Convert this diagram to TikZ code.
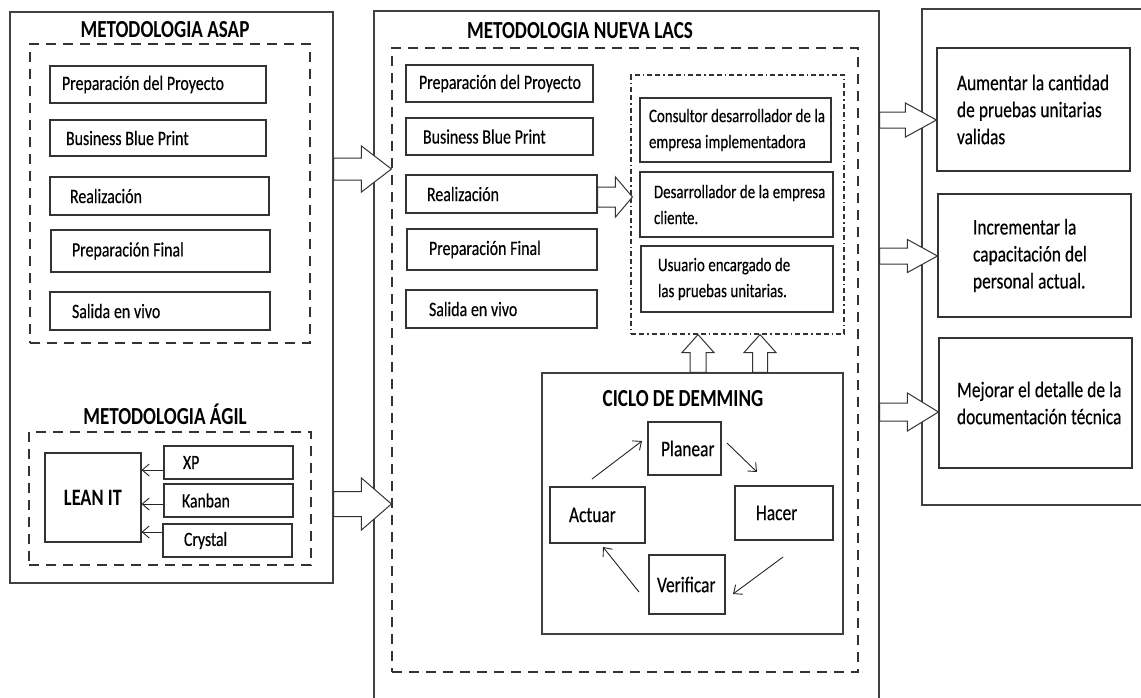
\documentclass[tikz,border=0pt]{standalone}
\usepackage{fontspec}
\setmainfont[FakeStretch=0.78, UprightFeatures={FakeBold=0.35}]{Carlito}
\usetikzlibrary{calc,arrows.meta}
\hfuzz=300pt \hbadness=10000
\newcommand\bx[8][]{%
  \pgfmathsetmacro\bw{#5-#3}\pgfmathsetmacro\bh{#6-#4}%
  \node[box,#1,minimum width=\bw pt,minimum height=\bh pt,text width=\bw pt,
        execute at begin node={\leftskip=#7pt\relax\spaceskip=0.185em plus 0.05em minus 0.02em\relax}] (#2) at ({(#3+#5)/2},{(#4+#6)/2}) {#8};}
\newcommand\rbox[6]{%
  \pgfmathsetmacro\bw{#5-#3}\pgfmathsetmacro\bh{#6-#4}%
  \node[#1,minimum width=\bw pt,minimum height=\bh pt,inner sep=0pt] (#2) at ({(#3+#5)/2},{(#4+#6)/2}) {};}
\newcommand\mline[1]{\mbox{#1}}
\tikzset{
  x=1pt, y=-1pt,
  box/.style={draw=black!80, line width=1.1pt, fill=white, inner xsep=0pt, inner ysep=0pt, align=left, text=black},
  body/.style={font=\fontsize{20.4}{22}\selectfont},
  small/.style={font=\fontsize{19.1}{26}\selectfont},
  big/.style={font=\fontsize{22.3}{27}\selectfont},
  dm/.style={font=\fontsize{22.3}{24}\selectfont},
  lean/.style={font=\bfseries\fontsize{23.5}{25}\selectfont},
  sm2/.style={font=\fontsize{20.2}{22}\selectfont},
  outerbox/.style={draw=black!75, line width=1.1pt},
  dashbox/.style={draw=black!80, line width=1.1pt, dash pattern=on 10pt off 7pt},
  dotbox/.style={draw=black!80, line width=1.1pt, dash pattern=on 5pt off 3pt on 5pt off 3pt on 1.5pt off 3pt},
  title/.style={font=\bfseries\fontsize{24.5}{26}\selectfont, anchor=base, text=black, inner sep=0pt},
  barrow/.style={draw=black!80, line width=1pt, fill=white, line join=miter},
  harrow/.style n args={3}{to path={let \p1=(\tikztostart), \p2=(\tikztotarget) in
     (\x1,\y1+#1pt) -- (\x2-#3pt,\y1+#1pt) -- (\x2-#3pt,\y1+#2pt) -- (\x2,\y1)
     -- (\x2-#3pt,\y1-#2pt) -- (\x2-#3pt,\y1-#1pt) -- (\x1,\y1-#1pt) -- cycle}},
  varrow/.style n args={3}{to path={let \p1=(\tikztostart), \p2=(\tikztotarget) in
     (\x1-#1pt,\y1) -- (\x1-#1pt,\y2-#3pt) -- (\x1-#2pt,\y2-#3pt) -- (\x1,\y2)
     -- (\x1+#2pt,\y2-#3pt) -- (\x1+#1pt,\y2-#3pt) -- (\x1+#1pt,\y1) -- cycle}},
  thinarr/.style={draw=black!85, line width=0.9pt, -{Straight Barb[length=7pt,width=12pt]}},
}
\begin{document}
\begin{tikzpicture}
\useasboundingbox (0,0) rectangle (1141,697);
\clip (0,0) rectangle (1141,697);
\fill[white] (0,0) rectangle (1141,697);

% outer frames
\rbox{outerbox}{leftout}{10}{12}{333}{583}
\rbox{outerbox}{midout}{374}{11}{879}{710}
\rbox{outerbox}{rightout}{922}{9}{1150}{505}

% dashed frames
\rbox{dashbox}{asapd}{30}{44}{310}{343}
\rbox{dashbox}{agild}{29}{432}{311}{565}
\rbox{dashbox}{nueva}{392}{48}{858}{672}
\rbox{dotbox}{roles}{631}{75}{844}{334}

% titles
\node[title] (t1) at (165,37) {METODOLOGIA ASAP};
\node[title] (t2) at (165,424) {METODOLOGIA ÁGIL};
\node[title] (t3) at (580,38) {METODOLOGIA NUEVA LACS};
\node[title] (t4) at (683,406) {CICLO DE DEMMING};

% ASAP column
\bx[body]{a1}{50}{66}{266}{103}{12}{\mline{Preparación del Proyecto}}
\bx[body]{a2}{50}{120}{266}{156}{16}{\mline{Business Blue Print}}
\bx[body]{a3}{50}{177}{269}{215}{20}{Realización}
\bx[body]{a4}{51}{230}{270}{272}{21}{\mline{Preparación Final}}
\bx[body]{a5}{50}{292}{270}{330}{22}{\mline{Salida en vivo}}

% Agil
\bx[lean]{lean}{45}{453}{141}{542}{19}{\mline{LEAN IT}}
\bx[sm2]{xp}{164}{446}{293}{479}{19}{XP}
\bx[sm2]{kb}{164}{484}{293}{517}{18}{Kanban}
\bx[sm2]{cr}{163}{524}{292}{557}{21}{Crystal}
\coordinate (l1) at (0,470);
\coordinate (l2) at (0,504);
\coordinate (l3) at (0,532);
\draw[thinarr] (xp.west |- l1) -- (lean.east |- l1);
\draw[thinarr] (kb.west |- l2) -- (lean.east |- l2);
\draw[thinarr] (cr.west |- l3) -- (lean.east |- l3);

% Nueva column
\bx[body]{m1}{406}{65}{593}{102}{13}{\mline{Preparación del Proyecto}}
\bx[body]{m2}{406}{118}{593}{155}{17}{\mline{Business Blue Print}}
\bx[body]{m3}{406}{175}{597}{213}{21}{Realización}
\bx[body]{m4}{407}{229}{597}{270}{22}{\mline{Preparación Final}}
\bx[body]{m5}{406}{290}{597}{328}{23}{\mline{Salida en vivo}}

% roles
\bx[small]{r1}{640}{98}{831}{162}{9}{\mline{Consultor desarrollador de la}\\\mline{empresa implementadora}}
\bx[small]{r2}{640}{172}{833}{237}{14}{\mline{Desarrollador de la empresa}\\cliente.}
\bx[small]{r3}{641}{246}{833}{312}{17}{\mline{Usuario encargado de}\\\mline{las pruebas unitarias.}}

% Demming
\rbox{outerbox}{dem}{542}{373}{843}{634}
\bx[dm]{plan}{648}{422}{721}{475}{13}{Planear}
\bx[dm]{hac}{735}{486}{833}{540}{21}{Hacer}
\bx[dm]{act}{550}{487}{645}{543}{19}{Actuar}
\bx[dm]{ver}{649}{555}{725}{614}{8}{Verificar}
\coordinate (c1) at (592,479); \coordinate (c2) at (642,441);
\coordinate (c3) at (727,443); \coordinate (c4) at (757,472);
\coordinate (c5) at (783,557); \coordinate (c6) at (733,594);
\coordinate (c7) at (639,592); \coordinate (c8) at (603,547);
\draw[thinarr] (c1) -- (c2);
\draw[thinarr] (c3) -- (c4);
\draw[thinarr] (c5) -- (c6);
\draw[thinarr] (c7) -- (c8);

% right column
\bx[big]{o1}{937}{48}{1130}{171}{20}{\mline{Aumentar la cantidad}\\\mline{de pruebas unitarias}\\validas}
\bx[big]{o2}{938}{194}{1131}{317}{35}{\mline{Incrementar la}\\\mline{capacitación del}\\\mline{personal actual.}}
\bx[big]{o3}{939}{338}{1132}{468}{18}{\mline{Mejorar el detalle de la}\\\mline{documentación técnica}}

% block arrows
\coordinate (h1) at (0,169);
\coordinate (h2) at (0,504);
\coordinate (h3) at (0,197);
\coordinate (h4) at (0,120);
\coordinate (h5) at (0,256);
\coordinate (h6) at (0,412);
\draw[barrow, harrow={11}{23}{30}] (leftout.east |- h1) to (nueva.west |- h1);
\draw[barrow, harrow={12.5}{26}{30}] (leftout.east |- h2) to (nueva.west |- h2);
\draw[barrow, harrow={10}{20}{17}] (m3.east |- h3) to ([xshift=2pt]roles.west |- h3);
\draw[barrow, harrow={8}{17}{31}] (midout.east |- h4) to (o1.west |- h4);
\draw[barrow, harrow={8}{16.5}{30}] (midout.east |- h5) to (o2.west |- h5);
\draw[barrow, harrow={9}{19}{31}] (midout.east |- h6) to (o3.west |- h6);
\coordinate (v1) at (698,0);
\coordinate (v2) at (760,0);
\draw[barrow, varrow={8}{16}{18}] (v1 |- dem.north) to (v1 |- roles.south);
\draw[barrow, varrow={7.5}{16}{18}] (v2 |- dem.north) to (v2 |- roles.south);
\end{tikzpicture}
\end{document}
